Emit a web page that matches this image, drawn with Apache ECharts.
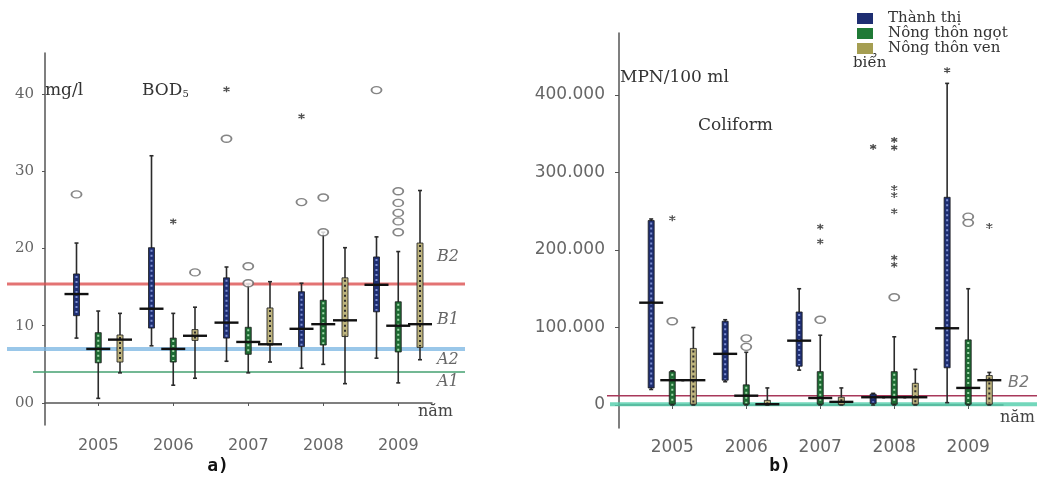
<!DOCTYPE html>
<html><head><meta charset="utf-8">
<script src="https://cdn.jsdelivr.net/npm/echarts@6/dist/echarts.min.js"></script>
<style>html,body{margin:0;padding:0;background:#fff}#c{width:1041px;height:488px}</style>
</head><body><div id="c"></div>
<script>
// ---------- DATA ----------
const years = [2005, 2006, 2007, 2008, 2009];
const groupNames = ['Thành thị', 'Nông thôn ngọt', 'Nông thôn ven biển'];

// BOD5 (mg/l) boxes: [min, q1, median, q3, max] per year
const bodUrban   = [[8.4, 11.3, 14.1, 16.7, 20.7], [7.4, 9.7, 12.2, 20.1, 32.0], [5.4, 8.4, 10.4, 16.2, 17.6], [4.5, 7.3, 9.6, 14.4, 15.5], [5.8, 11.8, 15.3, 18.9, 21.5]];
const bodFresh   = [[0.6, 5.2, 7.0, 9.1, 11.9], [2.3, 5.3, 7.0, 8.4, 11.6], [3.9, 6.3, 7.9, 9.8, 15.4], [5.0, 7.5, 10.2, 13.3, 22.1], [2.6, 6.6, 10.0, 13.1, 19.6]];
const bodCoastal = [[3.9, 5.3, 8.2, 8.8, 11.6], [3.2, 8.1, 8.7, 9.5, 12.4], [5.3, 7.5, 7.6, 12.3, 15.7], [2.5, 8.6, 10.7, 16.2, 20.1], [5.6, 7.2, 10.2, 20.7, 27.5]];
// outliers: [year, group index, value]
const bodCircles = [[2005, 0, 27.0], [2006, 2, 16.9], [2007, 0, 34.2], [2007, 1, 17.7], [2007, 1, 15.5], [2008, 0, 26.0], [2008, 1, 26.6], [2008, 1, 22.1], [2009, 0, 40.5], [2009, 1, 27.4], [2009, 1, 25.9], [2009, 1, 24.6], [2009, 1, 23.5], [2009, 1, 22.1]];
const bodStars = [[2006, 1, 23.5], [2007, 0, 40.6], [2008, 0, 37.1]];
const bodLimits = [15.4, 7.0, 4.0];
const bodTicks = [0, 10, 20, 30, 40];

// Coliform (MPN/100 ml) boxes: [min, q1, median, q3, max]
const coliUrban   = [[20000, 22000, 132000, 238000, 240000], [30000, 32000, 66000, 108000, 110000], [45000, 50000, 83000, 120000, 150000], [0, 2000, 10000, 14000, 15000], [3000, 48000, 99000, 268000, 415000]];
const coliFresh   = [[0, 1000, 32000, 43000, 44000], [0, 1000, 12000, 26000, 68000], [0, 1000, 9000, 43000, 90000], [0, 1000, 10000, 43000, 88000], [0, 1000, 22000, 84000, 150000]];
const coliCoastal = [[0, 1000, 32000, 73000, 100000], [0, 500, 1000, 6000, 22000], [0, 500, 4000, 10000, 22000], [0, 1000, 10000, 28000, 46000], [0, 1000, 32000, 38000, 42000]];
const coliCircles = [[2005, 1, 108000], [2006, 1, 86000], [2006, 1, 75000], [2007, 1, 110000], [2008, 1, 139000], [2009, 1, 243000], [2009, 1, 235000]];
const coliStars = [[2005, 1, 241000], [2007, 1, 230000], [2007, 1, 211000], [2008, 0, 333000], [2008, 1, 342000], [2008, 1, 332000], [2008, 1, 280000], [2008, 1, 271000], [2008, 1, 250000], [2008, 1, 190000], [2008, 1, 181000], [2009, 0, 432000], [2009, 2, 231000]];
const coliLimits = [12000, 1000];
const coliTicks = [0, 100000, 200000, 300000, 400000];

// ---------- STYLE ----------
const fills = ['#1e2e72', '#1d6a32', '#beb47e'];
const dots  = ['#7d8fd0', '#9fd8a8', '#2a2a2a'];
const legendColors = ['#1e2e72', '#1f7a36', '#a59e52'];
const serif = '"DejaVu Serif", "Liberation Serif", serif';
const sans = '"DejaVu Sans", sans-serif';

function boxRenderer(offset, gi, boxW, medW) {
  return function (params, api) {
    const x = api.value(0) + offset;
    const p = k => api.coord([x, api.value(k)]);
    const pMin = p(1), pQ1 = p(2), pMed = p(3), pQ3 = p(4), pMax = p(5);
    const cx = pMin[0], hw = boxW / 2;
    const wl = { stroke: '#2b2b2b', lineWidth: 1.6 };
    const h = Math.max(pQ1[1] - pQ3[1], 2);
    return { type: 'group', children: [
      { type: 'line', shape: { x1: cx, y1: pMax[1], x2: cx, y2: pMin[1] }, style: wl },
      { type: 'line', shape: { x1: cx - 2, y1: pMax[1], x2: cx + 2, y2: pMax[1] }, style: wl },
      { type: 'line', shape: { x1: cx - 2, y1: pMin[1], x2: cx + 2, y2: pMin[1] }, style: wl },
      { type: 'rect', shape: { x: cx - hw, y: pQ3[1], width: boxW, height: h }, style: { fill: fills[gi], stroke: '#1a1a1a', lineWidth: 0.8 } },
      { type: 'line', shape: { x1: cx, y1: pQ3[1] + 2, x2: cx, y2: pQ3[1] + h - 1 }, style: { stroke: dots[gi], lineWidth: 2, lineDash: [2, 3] } },
      { type: 'line', shape: { x1: cx - medW / 2, y1: pMed[1], x2: cx + medW / 2, y2: pMed[1] }, style: { stroke: '#111', lineWidth: 2.4 } }
    ] };
  };
}

function limitRenderer(x0s, x1s, styles) {
  return function (params, api) {
    const i = params.dataIndex;
    const y = api.coord([2007, api.value(0)])[1];
    return { type: 'line', shape: { x1: x0s[i], y1: y, x2: x1s[i], y2: y }, style: styles[i] };
  };
}

const series = [];
function addPanel(idx, arrays, circles, stars, limits, offsets, boxW, limX0, limX1, limStyles) {
  series.push({ type: 'custom', xAxisIndex: idx, yAxisIndex: idx, z: 1, silent: true,
    renderItem: limitRenderer(limX0, limX1, limStyles), data: limits.map(v => [v]) });
  arrays.forEach((arr, gi) => {
    series.push({ type: 'custom', name: groupNames[gi], xAxisIndex: idx, yAxisIndex: idx, z: 3,
      itemStyle: { color: legendColors[gi] },
      renderItem: boxRenderer(offsets[gi], gi, boxW, 24),
      encode: { x: 0, y: [1, 2, 3, 4, 5] },
      data: years.map((y, i) => [y].concat(arr[i])) });
  });
  series.push({ type: 'scatter', xAxisIndex: idx, yAxisIndex: idx, z: 4, silent: true,
    symbol: 'circle', symbolSize: [10, 7],
    itemStyle: { color: '#fff', borderColor: '#666', borderWidth: 1.6 },
    data: circles.map(c => [c[0] + offsets[c[1]], c[2]]) });
  series.push({ type: 'scatter', xAxisIndex: idx, yAxisIndex: idx, z: 4, silent: true,
    symbol: 'path://M5 0 L5 10 M0.7 2.5 L9.3 7.5 M0.7 7.5 L9.3 2.5', symbolSize: 6,
    itemStyle: { color: '#222', borderColor: '#222', borderWidth: 1.3 },
    data: stars.map(c => [c[0] + offsets[c[1]], c[2]]) });
}

addPanel(0, [bodUrban, bodFresh, bodCoastal], bodCircles, bodStars, bodLimits, [-0.29, 0, 0.29], 6,
  [7, 7, 33], [465, 465, 465],
  [{ stroke: 'rgba(220,80,80,0.8)', lineWidth: 3 }, { stroke: 'rgba(120,180,225,0.75)', lineWidth: 4 }, { stroke: '#45a070', lineWidth: 1.5 }]);
addPanel(1, [coliUrban, coliFresh, coliCoastal], coliCircles, coliStars, coliLimits, [-0.285, 0, 0.285], 6,
  [607, 610], [1037, 1037],
  [{ stroke: '#a8385a', lineWidth: 1.6 }, { stroke: 'rgba(80,205,170,0.8)', lineWidth: 4 }]);

const axisLineStyle = { lineStyle: { color: '#555', width: 1.5 } };
const yearFmt = v => String(Math.round(v));
const option = {
  animation: false,
  backgroundColor: '#fff',
  grid: [
    { left: 45, top: 53, width: 387, height: 372, outerBoundsMode: 'none', containLabel: false },
    { left: 619, top: 33, width: 384, height: 395, outerBoundsMode: 'none', containLabel: false }
  ],
  xAxis: [
    { gridIndex: 0, type: 'value', min: 2004.29, max: 2009.45, splitLine: { show: false },
      axisLine: axisLineStyle, axisTick: { customValues: years, length: 3, lineStyle: { color: '#555' } },
      axisLabel: { customValues: years, margin: 13, color: '#666', fontFamily: sans, fontSize: 16, formatter: yearFmt } },
    { gridIndex: 1, type: 'value', min: 2004.28, max: 2009.47, splitLine: { show: false },
      axisLine: axisLineStyle, axisTick: { customValues: years, length: 4, lineStyle: { color: '#555' } },
      axisLabel: { customValues: years, margin: 11, color: '#666', fontFamily: sans, fontSize: 17, formatter: yearFmt } }
  ],
  yAxis: [
    { gridIndex: 0, type: 'value', min: -2.85, max: 45.3, splitLine: { show: false },
      axisLine: { show: true, lineStyle: { color: '#555', width: 1.5 } },
      axisTick: { show: true, customValues: bodTicks, length: 3, lineStyle: { color: '#555' } },
      axisLabel: { customValues: bodTicks, margin: 11, color: '#666', fontFamily: serif, fontSize: 15,
        formatter: v => v === 0 ? '00' : String(v) } },
    { gridIndex: 1, type: 'value', min: -29700, max: 480000, splitLine: { show: false },
      axisLine: { show: true, lineStyle: { color: '#555', width: 1.5 } },
      axisTick: { show: true, customValues: coliTicks, length: 4, lineStyle: { color: '#555' } },
      axisLabel: { customValues: coliTicks, margin: 14, color: '#666', fontFamily: sans, fontSize: 17,
        formatter: v => v === 0 ? '0' : (v / 1000) + '.000' } }
  ],
  legend: {
    orient: 'vertical', left: 852, top: 6, itemWidth: 16, itemHeight: 11, itemGap: 0,
    icon: 'rect', selectedMode: false, data: groupNames,
    formatter: n => n === 'Nông thôn ven biển' ? 'Nông thôn ven' : n,
    textStyle: { fontFamily: serif, fontSize: 15, color: '#333', padding: [0, 0, 0, 10] }
  },
  graphic: [
    { type: 'text', x: 45, y: 91, style: { text: 'mg/l', font: '17px ' + serif, fill: '#333', verticalAlign: 'middle' } },
    { type: 'text', x: 142, y: 91, style: { text: 'BOD{s|5}', font: '17px ' + serif, fill: '#333', verticalAlign: 'middle',
      rich: { s: { fontSize: 10, fontFamily: serif, fill: '#333', padding: [7, 0, 0, 0] } } } },
    { type: 'text', x: 620, y: 78, style: { text: 'MPN/100 ml', font: '17px ' + serif, fill: '#333', verticalAlign: 'middle' } },
    { type: 'text', x: 698, y: 126, style: { text: 'Coliform', font: '17px ' + serif, fill: '#333', verticalAlign: 'middle' } },
    { type: 'text', x: 853, y: 63, style: { text: 'biển', font: '15px ' + serif, fill: '#333', verticalAlign: 'middle' } },
    { type: 'text', x: 418, y: 412, style: { text: 'năm', font: '16px ' + serif, fill: '#444', verticalAlign: 'middle' } },
    { type: 'text', x: 1000, y: 418, style: { text: 'năm', font: '16px ' + serif, fill: '#444', verticalAlign: 'middle' } },
    { type: 'text', x: 437, y: 257, style: { text: 'B2', font: 'italic 16px ' + serif, fill: '#666', verticalAlign: 'middle' } },
    { type: 'text', x: 437, y: 320, style: { text: 'B1', font: 'italic 16px ' + serif, fill: '#666', verticalAlign: 'middle' } },
    { type: 'text', x: 437, y: 360, style: { text: 'A2', font: 'italic 16px ' + serif, fill: '#666', verticalAlign: 'middle' } },
    { type: 'text', x: 437, y: 382, style: { text: 'A1', font: 'italic 16px ' + serif, fill: '#666', verticalAlign: 'middle' } },
    { type: 'text', x: 1008, y: 383, style: { text: 'B2', font: 'italic 16px ' + sans, fill: '#777', verticalAlign: 'middle' } },
    { type: 'text', x: 218, y: 466, style: { text: 'a)', font: 'bold 18px "DejaVu Sans Mono", monospace', fill: '#111', align: 'center', verticalAlign: 'middle' } },
    { type: 'text', x: 780, y: 466, style: { text: 'b)', font: 'bold 18px "DejaVu Sans Mono", monospace', fill: '#111', align: 'center', verticalAlign: 'middle' } }
  ],
  series: series
};
const chart = echarts.init(document.getElementById('c'), null, { renderer: 'canvas' });
chart.setOption(option);
</script>
</body></html>
